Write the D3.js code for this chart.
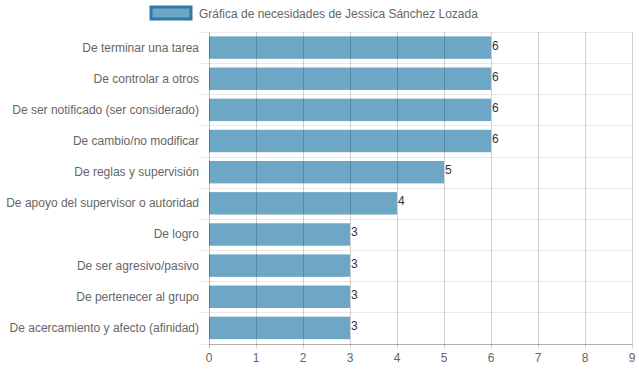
<!DOCTYPE html>
<html><head><meta charset="utf-8">
<script src="https://cdn.jsdelivr.net/npm/d3@7"></script>
<style>body{margin:0;background:#fff;}svg{display:block;font-family:"Liberation Sans",Arial,sans-serif;}</style>
</head><body>
<svg id="c" width="639" height="372"></svg>
<script>
const categories = ["De terminar una tarea","De controlar a otros","De ser notificado (ser considerado)","De cambio/no modificar","De reglas y supervisión","De apoyo del supervisor o autoridad","De logro","De ser agresivo/pasivo","De pertenecer al grupo","De acercamiento y afecto (afinidad)"];
const values = [6,6,6,6,5,4,3,3,3,3];
const xTicks = [0,1,2,3,4,5,6,7,8,9];
const seriesLabel = "Gráfica de necesidades de Jessica Sánchez Lozada";

const svg = d3.select("#c");
const pL = 209, pR = 632, pT = 32, pB = 343.5;
const x = d3.scaleLinear().domain([0,9]).range([pL,pR]);
const y = d3.scaleBand().domain(categories).range([pT,pB]);
const barH = y.bandwidth()*0.72;

// horizontal grid lines (between categories)
const hLines = categories.map(c=>y(c)).concat([pB]);
svg.append("g").selectAll("line").data(hLines).join("line")
  .attr("x1",pL-10).attr("x2",pR).attr("y1",d=>Math.round(d)+0.5).attr("y2",d=>Math.round(d)+0.5)
  .attr("stroke","rgba(0,0,0,0.08)");

// bars
svg.append("g").selectAll("rect").data(values).join("rect")
  .attr("x",x(0)).attr("y",(d,i)=>y(categories[i])+(y.bandwidth()-barH)/2)
  .attr("width",d=>x(d)-x(0)).attr("height",barH)
  .attr("fill","#6da7c5");

// vertical grid lines
svg.append("g").selectAll("line").data(xTicks).join("line")
  .attr("x1",d=>Math.round(x(d))+0.5).attr("x2",d=>Math.round(x(d))+0.5)
  .attr("y1",pT).attr("y2",pB+5)
  .attr("stroke",d=>d===0?"rgba(0,0,0,0.25)":"rgba(0,0,0,0.18)");

// x axis line
svg.append("line").attr("x1",pL).attr("x2",pR).attr("y1",Math.round(pB)+0.5).attr("y2",Math.round(pB)+0.5)
  .attr("stroke","rgba(0,0,0,0.25)");

// x tick labels
svg.append("g").selectAll("text").data(xTicks).join("text")
  .attr("x",d=>x(d)).attr("y",362).attr("text-anchor","middle")
  .attr("font-size",12).attr("fill","#666").text(d=>d);

// category labels
svg.append("g").selectAll("text").data(categories).join("text")
  .attr("x",199).attr("y",d=>y(d)+y.bandwidth()/2+4).attr("text-anchor","end")
  .attr("font-size",12).attr("fill","#666").text(d=>d);

// value labels
svg.append("g").selectAll("text").data(values).join("text")
  .attr("x",d=>x(d)+1).attr("y",(d,i)=>y(categories[i])+y.bandwidth()/2+2)
  .attr("font-size",12).attr("fill","#333").text(d=>d);

// legend
svg.append("rect").attr("x",151).attr("y",7).attr("width",40).attr("height",12)
  .attr("fill","#6da7c5").attr("stroke","#2f78a8").attr("stroke-width",3);
svg.append("text").attr("x",199).attr("y",18).attr("font-size",12).attr("fill","#666").text(seriesLabel);
</script>
</body></html>
